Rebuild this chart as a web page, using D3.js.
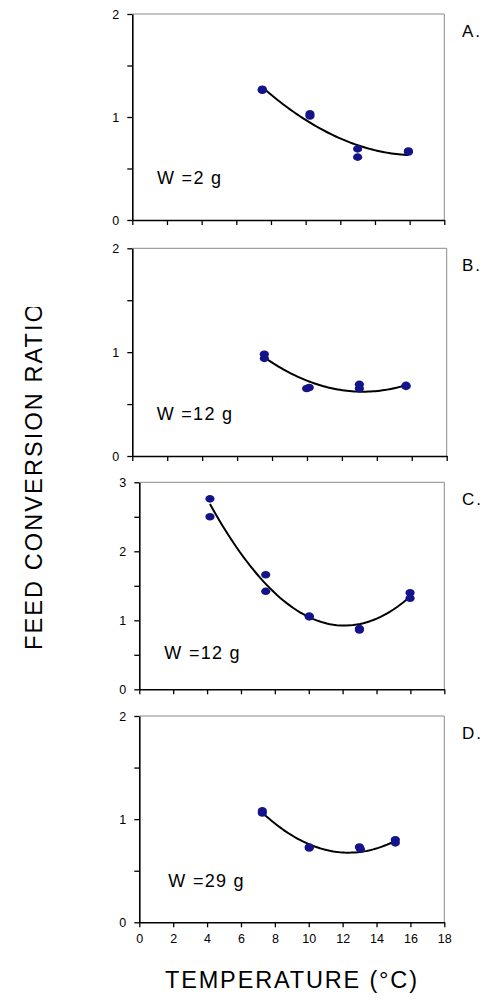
<!DOCTYPE html>
<html>
<head>
<meta charset="utf-8">
<script src="https://cdn.jsdelivr.net/npm/d3@7"></script>
<style>
  html, body { margin: 0; padding: 0; background: #fff; }
  svg { display: block; font-family: Arial, "Liberation Sans", Helvetica, sans-serif; }
</style>
</head>
<body>
<svg id="chart" width="492" height="1000"></svg>
<script>
// Feed conversion ratio vs. water temperature, four fish size classes

// Panel A  (W = 2 g)
const tempA = [7.5, 7.5, 10.25, 10.25, 13.0, 13.0, 15.93, 15.93];
const fcrA  = [1.27, 1.26, 1.03, 1.01, 0.69, 0.61, 0.67, 0.66];
const fitTempA = [7.56, 8.71, 10.25, 11.6, 13.0, 14.5, 15.93];
const fitA     = [1.269, 1.133, 0.955, 0.825, 0.712, 0.654, 0.638];

// Panel B  (W = 12 g)
const tempB = [7.56, 7.56, 9.98, 10.13, 13.0, 13.0, 15.67, 15.67];
const fcrB  = [0.98, 0.94, 0.65, 0.66, 0.69, 0.65, 0.68, 0.67];
const fitTempB = [7.56, 8.84, 9.98, 11.5, 13.0, 14.37, 15.67];
const fitB     = [0.941, 0.828, 0.732, 0.642, 0.614, 0.636, 0.684];

// Panel C  (W = 12 g)
const tempC = [4.17, 4.17, 7.46, 7.46, 10.03, 10.03, 12.99, 12.99, 15.98, 15.98];
const fcrC  = [2.76, 2.50, 1.66, 1.42, 1.06, 1.05, 0.88, 0.86, 1.40, 1.32];
const fitTempC = [4.17, 5.55, 7.46, 8.7, 10.03, 11.45, 12.44, 13.42, 14.6, 15.98];
const fitC     = [2.647, 2.203, 1.487, 1.246, 1.052, 0.932, 0.917, 0.98, 1.10, 1.342];

// Panel D  (W = 29 g)
const tempD = [7.26, 7.26, 10.03, 10.03, 12.99, 13.05, 15.11, 15.11];
const fcrD  = [1.08, 1.06, 0.72, 0.73, 0.73, 0.71, 0.80, 0.77];
const fitTempD = [7.26, 8.7, 10.03, 11.45, 12.24, 13.0, 13.42, 15.11];
const fitD     = [1.049, 0.894, 0.765, 0.684, 0.662, 0.678, 0.69, 0.797];

const panelLetters = ["A.", "B.", "C.", "D."];
const weightLabels = ["W =2 g", "W =12 g", "W =12 g", "W =29 g"];
const yMaxes = [2, 2, 3, 2];
const xTicks = [0, 2, 4, 6, 8, 10, 12, 14, 16, 18];

const xTitle = "TEMPERATURE (°C)";
const yTitle = "FEED CONVERSION RATIO";

// Layout of each panel box (pixels)
const boxes = [
  { left: 132.3, right: 444.3, top: 14,    bottom: 220,   wx: 157,   wy: 184 },
  { left: 132.3, right: 446.7, top: 248.3, bottom: 456,   wx: 156.7, wy: 420 },
  { left: 139.3, right: 444.3, top: 482.3, bottom: 689.3, wx: 164.3, wy: 659 },
  { left: 139.3, right: 444.3, top: 716,   bottom: 922.3, wx: 168.3, wy: 886.5 }
];

const series = [
  [tempA, fcrA, fitTempA, fitA],
  [tempB, fcrB, fitTempB, fitB],
  [tempC, fcrC, fitTempC, fitC],
  [tempD, fcrD, fitTempD, fitD]
];

// Least-squares quadratic y = c0 + c1 t + c2 t^2 through the trend samples
function quadFit(ts, vs) {
  const S = [0, 0, 0, 0, 0], R = [0, 0, 0];
  ts.forEach((t, k) => {
    for (let p = 0; p < 5; p++) S[p] += Math.pow(t, p);
    for (let p = 0; p < 3; p++) R[p] += vs[k] * Math.pow(t, p);
  });
  const M = [[S[0], S[1], S[2], R[0]], [S[1], S[2], S[3], R[1]], [S[2], S[3], S[4], R[2]]];
  for (let c = 0; c < 3; c++) {
    for (let r = c + 1; r < 3; r++) {
      const f = M[r][c] / M[c][c];
      for (let k = c; k < 4; k++) M[r][k] -= f * M[c][k];
    }
  }
  const co = [0, 0, 0];
  for (let r = 2; r >= 0; r--) {
    let s = M[r][3];
    for (let k = r + 1; k < 3; k++) s -= M[r][k] * co[k];
    co[r] = s / M[r][r];
  }
  return t => co[0] + co[1] * t + co[2] * t * t;
}

const svg = d3.select("#chart");

series.forEach(([temps, fcrs, fitT, fitV], i) => {
  const b = boxes[i];
  const x = d3.scaleLinear().domain([0, 18]).range([b.left, b.right]);
  const y = d3.scaleLinear().domain([0, yMaxes[i]]).range([b.bottom, b.top]);
  const g = svg.append("g");

  // grey frame on top and right
  g.append("path")
    .attr("d", `M${b.left},${b.top}H${b.right}V${b.bottom}`)
    .attr("fill", "none").attr("stroke", "#8a8a8a").attr("stroke-width", 1);

  const yTickVals = d3.range(0, yMaxes[i] + 0.001, 0.5);
  const yAxis = d3.axisLeft(y)
    .tickValues(yTickVals)
    .tickFormat(d => Number.isInteger(d) ? d : "")
    .tickSize(5).tickSizeOuter(0).tickPadding(8);
  const ya = g.append("g").attr("transform", `translate(${b.left},0)`).call(yAxis);

  const xAxis = d3.axisBottom(x)
    .tickValues(xTicks)
    .tickFormat(i === 3 ? (d => d) : (() => ""))
    .tickSize(5).tickSizeOuter(0).tickPadding(7);
  const xa = g.append("g").attr("transform", `translate(0,${b.bottom})`).call(xAxis);

  [ya, xa].forEach(a => {
    a.select(".domain").attr("stroke", "#000").attr("stroke-width", 1.6);
    a.selectAll(".tick line").attr("stroke", "#000").attr("stroke-width", 1.3);
    a.selectAll(".tick text").attr("fill", "#000")
      .style("font-size", "12.5px").style("font-family", "Arial, 'Liberation Sans', sans-serif");
  });

  // fitted quadratic trend, drawn across the sampled temperature span
  const f = quadFit(fitT, fitV);
  const t0 = d3.min(fitT), t1 = d3.max(fitT);
  const ts = d3.range(0, 61).map(k => t0 + (t1 - t0) * k / 60);
  const line = d3.line().x(t => x(t)).y(t => y(f(t)));
  g.append("path")
    .datum(ts)
    .attr("d", line)
    .attr("fill", "none").attr("stroke", "#000").attr("stroke-width", 2)
    .attr("stroke-linejoin", "round");

  // observations
  g.selectAll("ellipse")
    .data(temps.map((t, k) => [t, fcrs[k]]))
    .join("ellipse")
    .attr("cx", d => x(d[0])).attr("cy", d => y(d[1]))
    .attr("rx", 4.6).attr("ry", 3.8)
    .attr("fill", "#14148a");

  g.append("text")
    .attr("x", b.wx).attr("y", b.wy)
    .attr("font-size", 18).attr("letter-spacing", 1.3)
    .attr("fill", "#000")
    .text(weightLabels[i]);

  g.append("text")
    .attr("x", 462).attr("y", b.top + 23)
    .attr("font-size", 17).attr("letter-spacing", 2)
    .attr("fill", "#000")
    .text(panelLetters[i]);
});

// axis titles
svg.append("text")
  .attr("x", 291).attr("y", 988)
  .attr("text-anchor", "middle")
  .attr("font-size", 23.5)
  .attr("textLength", 252).attr("lengthAdjust", "spacing")
  .attr("fill", "#000")
  .text(xTitle);

svg.append("clipPath").attr("id", "ytitle-clip")
  .append("rect").attr("x", 0).attr("y", 307).attr("width", 80).attr("height", 400);

svg.append("g").attr("clip-path", "url(#ytitle-clip)")
  .append("text")
  .attr("transform", "translate(42,650) rotate(-90)")
  .attr("font-size", 23.5)
  .attr("textLength", 346).attr("lengthAdjust", "spacing")
  .attr("fill", "#000")
  .text(yTitle);
</script>
</body>
</html>
